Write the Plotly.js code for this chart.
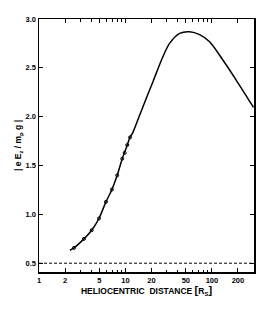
<!DOCTYPE html>
<html><head><meta charset="utf-8">
<script src="https://cdn.plot.ly/plotly-3.0.1.min.js"></script>
<style>html,body{margin:0;padding:0;background:#fff}#c{width:266px;height:309px}</style>
</head><body><div id="c"></div>
<script>
// model curve: heliocentric distance (Rs) vs |eEz/mp g|
const curveR = [2.28, 2.54, 3.31, 4.07, 4.94, 5.95, 6.98, 8.03, 9.18, 10.2, 11.3, 12.2, 15.9, 20.8, 27.1, 32.4, 42.3, 55.2, 72.1, 94.1, 134, 191, 303];
const curveV = [0.633, 0.657, 0.749, 0.838, 0.958, 1.128, 1.255, 1.40, 1.57, 1.68, 1.788, 1.84, 2.10, 2.358, 2.614, 2.75, 2.853, 2.87, 2.84, 2.767, 2.58, 2.375, 2.095];
// measured points
const dataR = [2.54, 3.31, 4.07, 4.94, 5.95, 6.98, 8.03, 9.18, 9.8, 10.5, 11.3];
const dataV = [0.657, 0.749, 0.838, 0.958, 1.128, 1.255, 1.40, 1.57, 1.63, 1.71, 1.788];
// reference level
const refV = 0.5;
const xTickVals = [1, 2, 5, 10, 20, 50, 100, 200];
const xTickText = ['1', '2', '5', '10', '20', '50', '100', '200'];
const xMinorVals = [3, 4, 6, 7, 8, 9, 30, 40, 60, 70, 80, 90, 300];
const yTickVals = [0.5, 1.0, 1.5, 2.0, 2.5, 3.0];
const yTickText = ['0.5', '1.0', '1.5', '2.0', '2.5', '3.0'];

const traces = [
  {x: curveR, y: curveV, mode: 'lines', line: {color: '#000', width: 1.5, shape: 'spline', smoothing: 0.8}, hoverinfo: 'none'},
  {x: dataR, y: dataV, mode: 'markers', marker: {symbol: 'circle-open', size: 3, color: '#000', line: {width: 1}}, hoverinfo: 'none'},
  {x: [1, 310], y: [refV, refV], mode: 'lines', line: {color: '#000', width: 1, dash: '3px,2px'}, hoverinfo: 'none'}
];
const fam = 'Liberation Sans, Arial, sans-serif';
const layout = {
  width: 266, height: 309,
  margin: {l: 39, r: 12, t: 19, b: 37},
  paper_bgcolor: '#fff', plot_bgcolor: '#fff',
  showlegend: false,
  font: {family: fam, size: 8, color: '#000'},
  xaxis: {
    type: 'log', range: [0, Math.log10(307)],
    tickmode: 'array', tickvals: xTickVals, ticktext: xTickText,
    ticks: 'inside', ticklen: 4, tickwidth: 1, tickcolor: '#000',
    minor: {tickmode: 'array', tickvals: xMinorVals, ticks: 'inside', ticklen: 2.5, tickwidth: 1, tickcolor: '#000'},
    showline: true, linecolor: '#000', linewidth: 1.5, mirror: 'ticks',
    showgrid: false, zeroline: false,
    tickfont: {family: fam, size: 7.5, color: '#000', weight: 'bold'},
    title: {text: 'HELIOCENTRIC  DISTANCE <span style="font-size:11px">[</span>R<sub>S</sub><span style="font-size:11px">]</span>', standoff: 2, font: {family: fam, size: 8.5, color: '#000', weight: 'bold'}}
  },
  yaxis: {
    range: [0.41, 3.0],
    tickmode: 'array', tickvals: yTickVals, ticktext: yTickText,
    ticks: 'inside', ticklen: 4, tickwidth: 1, tickcolor: '#000',
    showline: true, linecolor: '#000', linewidth: 1.5, mirror: 'ticks',
    showgrid: false, zeroline: false,
    tickfont: {family: fam, size: 7.5, color: '#000', weight: 'bold'},
    title: {text: '| e E<sub>z</sub> / m<sub>p</sub> g |', standoff: 2, font: {family: fam, size: 8.5, color: '#000', weight: 'bold'}}
  }
};
Plotly.newPlot('c', traces, layout, {staticPlot: true, displayModeBar: false});
</script></body></html>
